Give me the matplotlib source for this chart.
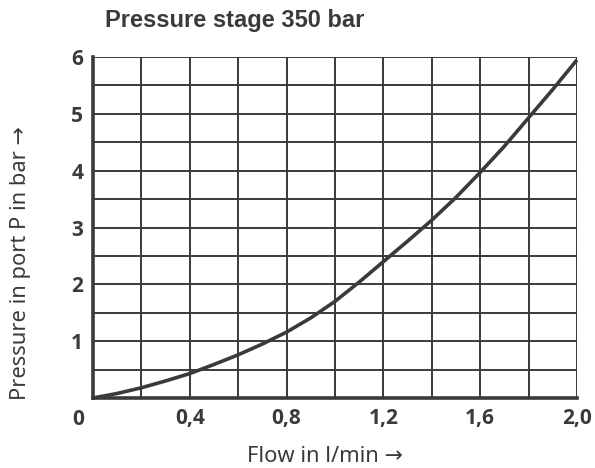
import matplotlib
matplotlib.use("Agg")
import matplotlib.pyplot as plt
import numpy as np
from matplotlib.transforms import offset_copy

# Flow (l/min) vs. pressure in port P (bar)
flow = [0.0, 0.1, 0.2, 0.3, 0.4, 0.5, 0.6, 0.7, 0.8, 0.9, 1.0,
        1.1, 1.2, 1.3, 1.4, 1.5, 1.6, 1.7, 1.8, 1.9, 2.0]
pressure = [0.0, 0.08, 0.18, 0.30, 0.43, 0.59, 0.76, 0.95, 1.16, 1.41, 1.70,
            2.04, 2.40, 2.76, 3.13, 3.53, 3.97, 4.43, 4.93, 5.43, 5.95]

x_ticks = [0.4, 0.8, 1.2, 1.6, 2.0]
x_tick_labels = ["0,4", "0,8", "1,2", "1,6", "2,0"]
y_ticks = [1, 2, 3, 4, 5, 6]
y_tick_labels = ["1", "2", "3", "4", "5", "6"]

title = "Pressure stage 350 bar"
x_label = "Flow in l/min \u2192"
y_label = "Pressure in port P in bar \u2192"

ink = "#3a3a3a"
tick_font = ["Open Sans", "DejaVu Sans"]
title_font = ["Liberation Sans", "DejaVu Sans"]
label_font = ["Noto Sans", "DejaVu Sans"]

W, H = 595, 468
fig = plt.figure(figsize=(W / 100, H / 100), dpi=100)
ax = fig.add_axes([93 / W, 1 - 398 / H, 484 / W, 341 / H])
renderer = fig.canvas.get_renderer()


def fit_width(txt, px):
    """Scale a text's font size so its horizontal extent spans px pixels."""
    ext = txt.get_window_extent(renderer)
    txt.set_fontsize(txt.get_fontsize() * px / ext.width)


ax.set_xlim(0, 2.0)
ax.set_ylim(0, 6)

# grid: every 0.2 l/min and every 0.5 bar
for gx in np.arange(0.2, 2.0001, 0.2):
    ax.axvline(gx, color=ink, lw=1.4, zorder=1)
for gy in np.arange(0.5, 6.0001, 0.5):
    ax.axhline(gy, color=ink, lw=1.4, zorder=1)

ax.plot(flow, pressure, color=ink, lw=2.6, solid_capstyle="butt",
        solid_joinstyle="round", zorder=3, clip_on=False)

for side in ("top", "right"):
    ax.spines[side].set_visible(False)
for side in ("left", "bottom"):
    ax.spines[side].set_linewidth(2.6)
    ax.spines[side].set_color(ink)
    ax.spines[side].set_zorder(4)

tick_kw = dict(family=tick_font, fontweight="bold", fontstretch="condensed",
               fontsize=15, color=ink)
ax.set_xticks(x_ticks)
ax.set_xticklabels(x_tick_labels, **tick_kw)
ax.set_yticks(y_ticks)
ax.set_yticklabels(y_tick_labels, **tick_kw)
ax.tick_params(length=0, pad=7)
ax.tick_params(axis="y", pad=7)

# origin label
origin = offset_copy(ax.transData, fig=fig, x=-11, y=-8, units="points")
ax.text(0, 0, "0", transform=origin, ha="center", va="top", **tick_kw)

t = fig.text(105 / W, 1 - 21 / H, title, ha="left", va="center",
             family=title_font, fontweight="bold", fontsize=13, color=ink)
fit_width(t, 258)
xl = fig.text(325 / W, 1 - 457 / H, x_label, ha="center", va="center",
              family=label_font, fontweight="normal", fontstretch="normal",
              fontsize=13, color=ink)
fit_width(xl, 156)
yl = fig.text(21 / W, 1 - 263 / H, y_label, ha="center", va="center",
              rotation=90, family=label_font, fontweight="normal",
              fontstretch="normal", fontsize=13, color=ink)
yl.set_fontsize(xl.get_fontsize())

fig.savefig("out.png", dpi=100)
